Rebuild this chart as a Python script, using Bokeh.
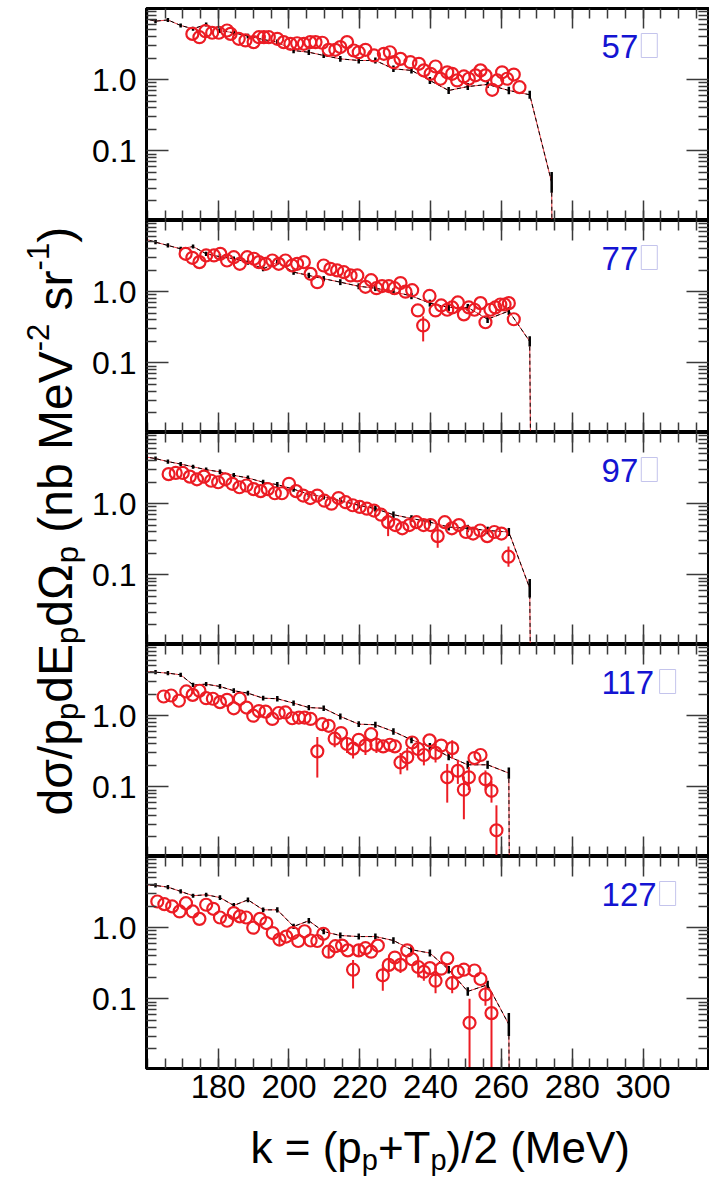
import math
from bokeh.plotting import figure
from bokeh.models import (FixedTicker, LogAxis, LinearAxis, Range1d,
                          PrintfTickFormatter)
from bokeh.layouts import row, column
from bokeh.embed import file_html
from bokeh.resources import INLINE
from bokeh.core.properties import value

# ---------------- data ----------------
panel_labels = ["57", "77", "97", "117", "127"]
x_ticks = [180, 200, 220, 240, 260, 280, 300]
x_minor = list(range(160, 320, 5))
y_ticks = [0.1, 1.0]
y_minor = [0.02, 0.03, 0.04, 0.05, 0.06, 0.07, 0.08, 0.09,
           0.2, 0.3, 0.4, 0.5, 0.6, 0.7, 0.8, 0.9,
           2, 3, 4, 5, 6, 7, 8, 9]

# measured data (red open circles): k (MeV), cross section
r1_k = [172.7, 174.7, 176.4, 178.3, 180.2, 182.5, 183.5, 185.8, 187.7, 190.0, 191.5, 192.9, 194.3,
        196.7, 198.5, 200.4, 202.3, 204.2, 206.0, 207.5, 209.4, 211.2, 213.1, 214.5, 216.4, 218.3,
        219.7, 221.6, 224.0, 226.8, 228.5, 229.6, 231.5, 234.3, 236.7, 238.1, 240.0, 241.4, 242.8,
        244.7, 246.1, 247.5, 249.4, 250.8, 252.7, 254.1, 255.5, 257.4, 258.8, 260.2, 261.6, 263.5, 265.1]
r1_y = [4.4, 3.95, 4.8, 4.56, 4.56, 4.91, 4.4, 3.75, 3.56, 3.37, 3.95, 3.95, 3.95,
        3.75, 3.37, 3.19, 3.25, 3.19, 3.37, 3.37, 3.3, 2.63, 2.63, 2.87, 3.37, 2.57,
        2.43, 2.63, 2.19, 2.31, 2.43, 1.76, 1.96, 1.76, 1.67, 1.35, 1.21, 1.53, 1.03,
        1.27, 1.21, 0.975, 1.11, 1.03, 1.15, 1.35, 1.15, 0.72, 0.975, 1.27, 1.03, 1.18, 0.785]
r1_bars = []

r2_k = [170.8, 172.7, 174.7, 176.6, 178.8, 180.6, 182.5, 184.4, 186.1, 188.2, 190.1, 191.5, 193.4,
        195.3, 197.1, 199.0, 200.9, 202.3, 204.2, 206.1, 208.0, 209.8, 211.7, 213.6, 215.5, 217.4,
        219.3, 221.6, 223.2, 224.7, 226.3, 228.2, 229.8, 231.5, 232.9, 234.8, 236.4, 237.9, 239.7,
        241.4, 243.0, 244.7, 246.1, 247.7, 249.4, 250.8, 252.4, 254.1, 255.5, 256.9, 258.3, 259.7,
        260.9, 262.1, 263.5]
r2_y = [3.4, 2.99, 2.6, 3.23, 3.23, 3.4, 2.74, 3.05, 2.46, 3.05, 2.9, 2.6, 2.46,
        2.74, 2.46, 2.74, 2.33, 2.46, 2.6, 1.78, 1.36, 2.33, 2.09, 1.99, 1.88, 1.69,
        1.69, 1.17, 1.45, 1.12, 1.2, 1.2, 1.12, 1.32, 1.0, 1.05, 0.545, 0.335, 0.87,
        0.545, 0.64, 0.557, 0.6, 0.705, 0.48, 0.6, 0.557, 0.69, 0.372, 0.557, 0.6, 0.66,
        0.66, 0.69, 0.41]
r2_bars = [(237.9, 0.2, 0.45)]

r3_k = [166, 168, 170, 172, 174, 176, 178, 180, 182, 184, 186, 188, 190, 192, 194, 196, 198, 200,
        202, 204, 206, 208, 210, 212, 214, 216, 218, 220, 222, 224, 226, 228, 230, 232, 234, 236,
        238, 240, 242, 244, 246, 248, 250, 252, 254, 256, 258, 260, 262]
r3_y = [2.6, 2.7, 2.7, 2.4, 2.2, 2.4, 2.1, 2.0, 2.2, 1.9, 1.7, 1.8, 1.6, 1.5, 1.6, 1.4, 1.4, 1.9,
        1.5, 1.3, 1.2, 1.3, 1.1, 1.0, 1.2, 1.05, 0.95, 0.9, 0.85, 0.8, 0.7, 0.55, 0.5, 0.45, 0.5, 0.55,
        0.5, 0.5, 0.35, 0.55, 0.45, 0.5, 0.4, 0.38, 0.42, 0.35, 0.4, 0.38, 0.18]
r3_bars = [(228, 0.35, 0.75), (242, 0.24, 0.5), (262, 0.13, 0.25)]

r4_k = [164.6, 166.7, 168.9, 171.0, 172.8, 174.7, 176.6, 178.5, 180.5, 182.5, 184.4, 186.1, 188.0,
        189.9, 191.5, 193.4, 195.3, 197.1, 199.0, 200.9, 202.8, 204.4, 206.1, 208.0, 209.4, 211.2,
        212.9, 214.7, 216.4, 218.1, 219.7, 221.6, 223.2, 224.7, 226.6, 228.5, 229.9, 231.5, 233.4,
        234.8, 236.5, 238.1, 239.7, 241.4, 243.0, 244.7, 246.1, 247.7, 249.4, 250.8, 252.4, 254.1,
        255.5, 257.2, 258.6]
r4_y = [1.86, 1.92, 1.62, 2.19, 1.96, 2.24, 1.76, 1.73, 1.55, 1.67, 1.27, 1.73, 1.3,
        1.0, 1.16, 1.14, 0.9, 1.09, 1.11, 0.92, 0.94, 0.94, 0.9, 0.315, 0.76, 0.72,
        0.475, 0.57, 0.4, 0.344, 0.458, 0.38, 0.55, 0.39, 0.37, 0.39, 0.37, 0.22, 0.26,
        0.42, 0.34, 0.28, 0.45, 0.3, 0.38, 0.136, 0.35, 0.168, 0.091, 0.136, 0.254, 0.28,
        0.128, 0.088, 0.0245]
r4_bars = [(208.0, 0.135, 0.5), (212.9, 0.36, 0.6), (216.4, 0.3, 0.5), (218.1, 0.25, 0.45),
           (221.6, 0.28, 0.5), (224.7, 0.3, 0.5), (231.5, 0.15, 0.3), (233.4, 0.17, 0.35),
           (236.5, 0.26, 0.44), (238.1, 0.2, 0.37), (241.4, 0.22, 0.4), (244.7, 0.06, 0.21),
           (246.1, 0.25, 0.45), (247.7, 0.11, 0.24), (249.4, 0.035, 0.14), (250.8, 0.09, 0.19),
           (255.5, 0.09, 0.17), (257.2, 0.06, 0.12), (258.6, 0.0001, 0.055)]

r5_k = [162.8, 164.8, 167.0, 169.1, 170.9, 172.8, 174.7, 176.6, 178.6, 180.5, 182.5, 184.4, 186.1,
        187.9, 189.9, 191.8, 193.6, 195.4, 197.3, 199.2, 201.1, 202.6, 204.4, 206.1, 208.0, 209.7,
        211.2, 213.1, 215.0, 216.6, 218.1, 219.7, 221.6, 223.2, 225.1, 226.5, 228.2, 229.9, 231.5,
        233.4, 234.8, 236.5, 238.1, 239.8, 241.4, 243.0, 244.7, 246.1, 247.7, 249.4, 251.0, 252.4,
        254.1, 255.5, 257.2]
r5_y = [2.33, 2.14, 1.99, 1.69, 2.21, 1.69, 1.33, 2.1, 1.84, 1.39, 1.25, 1.6, 1.44,
        1.39, 1.0, 1.33, 1.16, 0.84, 0.68, 0.75, 0.84, 0.65, 0.89, 0.66, 0.65, 0.82,
        0.46, 0.55, 0.56, 0.48, 0.257, 0.48, 0.515, 0.46, 0.56, 0.214, 0.3, 0.38, 0.3,
        0.48, 0.36, 0.28, 0.24, 0.27, 0.18, 0.265, 0.37, 0.166, 0.24, 0.257, 0.046, 0.25,
        0.19, 0.115, 0.063]
r5_bars = [(197.3, 0.56, 0.8), (211.2, 0.38, 0.55), (218.1, 0.14, 0.35), (219.7, 0.39, 0.58),
           (226.5, 0.13, 0.3), (228.2, 0.24, 0.37), (231.5, 0.23, 0.38), (236.5, 0.2, 0.36),
           (238.1, 0.18, 0.31), (241.4, 0.12, 0.24), (246.1, 0.12, 0.21), (251.0, 0.0001, 0.1),
           (255.5, 0.08, 0.15), (257.2, 0.0001, 0.12)]

# calculation (black points joined by lines)
b_k = [158.8, 162.3, 165.8, 169.4, 172.9, 176.6, 180.5, 184.4, 188.4, 192.7, 196.7, 201.3, 205.6,
       209.8, 214.5, 219.7, 224.4, 229.5, 234.6, 239.8, 245.1, 250.5, 256.1, 262.1, 268.0, 274.2]
b1_y = [7.3, 6.64, 6.9, 5.77, 5.19, 5.96, 4.9, 4.56, 4.1, 3.67, 3.37, 2.57, 2.43,
        2.19, 1.96, 1.86, 1.86, 1.42, 1.35, 0.975, 0.705, 0.8, 0.857, 0.705, 0.614, 0.036]
b2_y = [5.6, 4.96, 4.46, 4.0, 4.31, 3.4, 3.1, 2.9, 2.59, 2.09, 2.59, 1.88, 1.69,
        1.52, 1.36, 1.19, 1.12, 1.0, 0.87, 0.69, 0.6, 0.6, 0.41, 0.535, 0.2]
b3_y = [4.6, 4.3, 3.9, 3.6, 3.3, 3.0, 2.8, 2.5, 2.3, 2.0, 1.85, 1.6, 1.35,
        1.25, 1.1, 0.95, 0.85, 0.7, 0.62, 0.55, 0.47, 0.45, 0.42, 0.4, 0.065]
b4_y = [4.2, 4.08, 3.96, 3.75, 2.71, 2.77, 2.57, 2.24, 2.07, 1.76, 1.73, 1.5, 1.3,
        1.27, 0.975, 0.76, 0.745, 0.6, 0.458, 0.369, 0.267, 0.204, 0.204, 0.156]
b5_y = [4.0, 3.92, 3.71, 3.23, 2.81, 2.9, 2.65, 2.05, 2.46, 1.78, 1.78, 1.04, 1.25,
        0.88, 0.776, 0.75, 0.75, 0.66, 0.49, 0.44, 0.257, 0.127, 0.158, 0.0437]
b1_err = [1.07, 1.07, 1.07, 1.07, 1.07, 1.07, 1.08, 1.08, 1.08, 1.08, 1.09, 1.09, 1.09,
          1.09, 1.1, 1.1, 1.1, 1.11, 1.11, 1.12, 1.12, 1.12, 1.12, 1.13, 1.14, 1.4]
b2_err = [1.07, 1.07, 1.07, 1.07, 1.07, 1.07, 1.08, 1.08, 1.08, 1.08, 1.09, 1.09, 1.09,
          1.09, 1.1, 1.1, 1.1, 1.11, 1.11, 1.12, 1.12, 1.12, 1.13, 1.14, 1.18]
b3_err = [1.07, 1.07, 1.07, 1.07, 1.07, 1.07, 1.08, 1.08, 1.08, 1.08, 1.09, 1.09, 1.09,
          1.09, 1.1, 1.1, 1.1, 1.11, 1.11, 1.12, 1.12, 1.12, 1.13, 1.14, 1.35]
b4_err = [1.07, 1.07, 1.07, 1.07, 1.07, 1.07, 1.08, 1.08, 1.08, 1.08, 1.09, 1.09, 1.09,
          1.09, 1.1, 1.1, 1.1, 1.11, 1.12, 1.12, 1.13, 1.14, 1.14, 1.2]
b5_err = [1.07, 1.07, 1.07, 1.07, 1.07, 1.07, 1.08, 1.08, 1.08, 1.08, 1.09, 1.09, 1.09,
          1.09, 1.1, 1.1, 1.1, 1.11, 1.12, 1.12, 1.13, 1.15, 1.14, 1.45]
# end point of each calculation (kinematic limit, value falls to zero)
cut_k = [274.5, 268.5, 268.5, 262.4, 262.4]
cut_y = [0.0001, 0.0001, 0.0001, 0.0001, 0.0001]

# ---------------- style ----------------
X_RANGE = (159.75, 318.5)
Y_RANGE = (0.0105, 10.0)
FRAME_W = 562
PX_PER_DEC = 212 / math.log10(Y_RANGE[1] / Y_RANGE[0])
PX_PER_K = FRAME_W / (X_RANGE[1] - X_RANGE[0])
FRAME_LEFT = 146          # page x of the panel frames' left edge
RED = "#ec1c24"
BLUE = "#1414d2"
FONT = "Liberation Sans"
TICK = "#3a3a3a"
TOTAL_H = 1179
DROP = 0.35   # em: upright text is drawn this much below its alphabetic anchor

AW = {'d': .556, 'σ': .6, '/': .278, 'p': .556, 'E': .667, 'Ω': .768, ' ': .278, '(': .333,
      ')': .333, 'n': .556, 'b': .556, 'M': .833, 'e': .556, 'V': .667, 's': .5, 'r': .333,
      '-': .333, '2': .556, '1': .556, '7': .556, '5': .556, '9': .556, 'k': .5, '=': .584,
      '+': .584, 'T': .611}


def adv(s, size):
    return sum(AW.get(c, .556) for c in s) * size


def style_axis(ax, tin, tmin, labels, size="32px"):
    ax.axis_line_color = "black"
    ax.axis_line_width = 3
    ax.major_tick_in = tin
    ax.major_tick_out = 0
    ax.minor_tick_in = tmin
    ax.minor_tick_out = 0
    ax.major_tick_line_color = TICK
    ax.minor_tick_line_color = TICK
    ax.major_tick_line_width = 1.5
    ax.minor_tick_line_width = 1.5
    if labels:
        ax.major_label_text_font = FONT
        ax.major_label_text_font_size = size
        ax.major_label_text_color = "black"
    else:
        ax.major_label_text_font_size = "1px"
        ax.major_label_text_color = None
        ax.major_label_standoff = 0


def panel(i, rk, ry, bars, by, berr):
    top = 8 if i == 0 else 0
    bottom = 46 if i == 4 else 0
    p = figure(width=621, height=212 + top + bottom,
               x_range=Range1d(*X_RANGE), y_range=Range1d(*Y_RANGE),
               y_axis_type="log", output_backend="svg", toolbar_location=None,
               min_border_left=58, min_border_right=1,
               min_border_top=top, min_border_bottom=bottom)
    p.grid.visible = False
    p.outline_line_color = "black"
    p.outline_line_width = 3
    p.background_fill_color = "white"
    p.border_fill_color = "white"

    xb = p.xaxis[0]
    xb.ticker = FixedTicker(ticks=x_ticks, minor_ticks=x_minor)
    style_axis(xb, 20, 10, i == 4, "33px")
    xb.major_label_standoff = 6 if i == 4 else 0
    yl = p.yaxis[0]
    yl.ticker = FixedTicker(ticks=y_ticks, minor_ticks=y_minor)
    yl.formatter = PrintfTickFormatter(format="%.1f")
    style_axis(yl, 22, 10, True, "32px")
    yl.major_label_standoff = 10

    xa = LinearAxis(ticker=FixedTicker(ticks=x_ticks, minor_ticks=x_minor))
    style_axis(xa, 20, 10, False)
    p.add_layout(xa, "above")
    yr = LogAxis(ticker=FixedTicker(ticks=y_ticks, minor_ticks=y_minor))
    style_axis(yr, 22, 10, False)
    p.add_layout(yr, "right")

    n = len(by)
    bk = b_k[:n]
    lk = bk + [cut_k[i]]
    ly = by + [cut_y[i]]
    p.line(lk, ly, line_color=RED, line_width=1, line_alpha=0.85)
    p.line(lk, ly, line_color="black", line_width=1, line_dash="4 3")
    p.segment(x0=bk[1:], y0=[y / f for y, f in zip(by[1:], berr[1:])],
              x1=bk[1:], y1=[y * f for y, f in zip(by[1:], berr[1:])],
              line_color="black", line_width=2.5)

    if bars:
        p.segment(x0=[b[0] for b in bars], y0=[b[1] for b in bars],
                  x1=[b[0] for b in bars], y1=[b[2] for b in bars],
                  line_color=RED, line_width=2)
    p.scatter(rk, ry, marker="circle", size=12, fill_color=None,
              line_color=RED, line_width=2.2)

    # angle label followed by the (unrendered) degree glyph box
    kx = 288.3
    base_px = 50            # baseline, px below the frame top
    anchor_px = base_px - DROP * 33
    ty = Y_RANGE[1] / 10 ** (anchor_px / PX_PER_DEC)
    p.text(x=[kx], y=[ty], text=[panel_labels[i]], text_font=value(FONT),
           text_font_size="33px", text_color=BLUE,
           text_baseline="alphabetic", text_align="left")
    w = adv(panel_labels[i], 33)
    left = kx + (w + 3) / PX_PER_K
    p.quad(left=[left], right=[left + 16 / PX_PER_K],
           top=[Y_RANGE[1] / 10 ** ((base_px - 25) / PX_PER_DEC)],
           bottom=[Y_RANGE[1] / 10 ** ((base_px - 1) / PX_PER_DEC)],
           fill_color=None, line_color="#c4c4ec", line_width=1)
    return p


panels = [
    panel(0, r1_k, r1_y, r1_bars, b1_y, b1_err),
    panel(1, r2_k, r2_y, r2_bars, b2_y, b2_err),
    panel(2, r3_k, r3_y, r3_bars, b3_y, b3_err),
    panel(3, r4_k, r4_y, r4_bars, b4_y, b4_err),
    panel(4, r5_k, r5_y, r5_bars, b5_y, b5_err),
]

xl_h = TOTAL_H - sum(p.height for p in panels)


def blank(w, h):
    f = figure(frame_width=w, frame_height=h, x_range=Range1d(0, w), y_range=Range1d(0, h),
               output_backend="svg", toolbar_location=None, title=None,
               min_border_left=0, min_border_right=0, min_border_top=0, min_border_bottom=0,
               x_axis_location=None, y_axis_location=None)
    f.grid.visible = False
    f.outline_line_color = None
    f.background_fill_color = "white"
    f.border_fill_color = "white"
    return f


def lay_pieces(pieces, start, sizes):
    """Place text pieces one after another; leading blanks become a gap."""
    out = []
    pos = start
    for txt, kind in pieces:
        size = sizes[kind]
        stripped = txt.lstrip(" ")
        pos += adv(txt[:len(txt) - len(stripped)], size)
        out.append((pos, stripped, kind))
        pos += adv(stripped, size)
    return out


# y-axis title (rotated), pieces with sub/superscripts
ylab = blank(88, TOTAL_H)
ypieces = [("dσ/p", "m"), ("p", "b"), ("dE", "m"), ("p", "b"), ("dΩ", "m"), ("p", "b"),
           (" (nb MeV", "m"), ("-2", "u"), (" sr", "m"), ("-1", "u"), (")", "m")]
ysizes = {"m": 48, "b": 31, "u": 31}
ybase = {"m": 55, "b": 67, "u": 37}
for kind in ("m", "b", "u"):
    items = [it for it in lay_pieces(ypieces, TOTAL_H - 815.0, ysizes) if it[2] == kind]
    ylab.text(x=[ybase[kind]] * len(items), y=[it[0] for it in items],
              text=[it[1] for it in items], angle=math.pi / 2,
              text_font=value(FONT), text_font_size="%dpx" % ysizes[kind],
              text_color="black", text_align="left", text_baseline="alphabetic")

# x-axis title (its frame lines up with the panel frames, left edge at FRAME_LEFT)
xlab = blank(FRAME_W, xl_h)
xpieces = [("k = (p", "m"), ("p", "b"), ("+T", "m"), ("p", "b"), (")/2 (MeV)", "m")]
xsizes = {"m": 44, "b": 29}
page_top = TOTAL_H - xl_h
xbase = {"m": xl_h - (1162 - page_top) + DROP * 44,
         "b": xl_h - (1170 - page_top) + DROP * 29}
for kind in ("m", "b"):
    items = [it for it in lay_pieces(xpieces, 250.0 - FRAME_LEFT, xsizes) if it[2] == kind]
    xlab.text(x=[it[0] for it in items], y=[xbase[kind]] * len(items),
              text=[it[1] for it in items], text_font=value(FONT),
              text_font_size="%dpx" % xsizes[kind],
              text_color="black", text_align="left", text_baseline="alphabetic")

layout = row(ylab, column(*panels, xlab))
open("out.html", "w").write(file_html(layout, INLINE))
